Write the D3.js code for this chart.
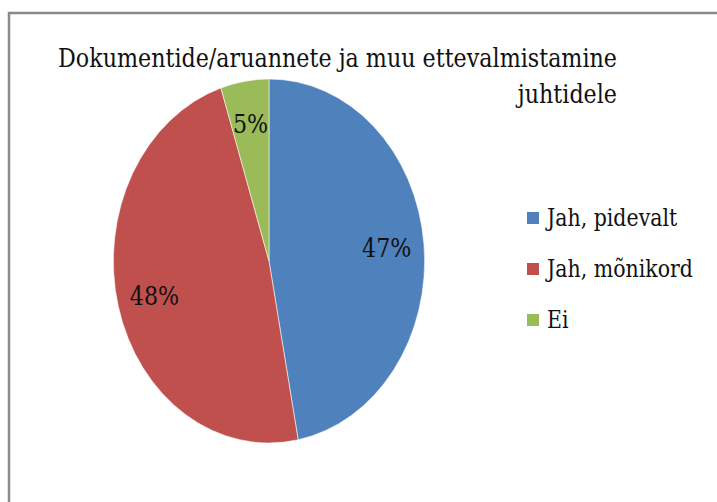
<!DOCTYPE html>
<html>
<head>
<meta charset="utf-8">
<script src="https://cdn.jsdelivr.net/npm/d3@7"></script>
<style>
  body { margin: 0; background: #fff; }
  svg { display: block; }
</style>
</head>
<body>
<div id="container"></div>
<script>
const categories = ["Jah, pidevalt", "Jah, mõnikord", "Ei"];
const values = [47, 48, 5];
const colors = ["#4f81bd", "#c0504d", "#9bbb59"];
const titleLines = ["Dokumentide/aruannete ja muu ettevalmistamine", "juhtidele"];

const width = 717, height = 502;
const squeeze = 0.855; // the whole source picture is narrower than tall
const font = "'DejaVu Serif', serif";

const svg = d3.select("#container")
  .append("svg")
  .attr("width", width)
  .attr("height", height);

// frame, runs off the right and bottom edges
svg.append("rect")
  .attr("x", 9)
  .attr("y", 13)
  .attr("width", 740)
  .attr("height", 520)
  .attr("fill", "#fff")
  .attr("stroke", "#8a8a8a")
  .attr("stroke-width", 2.5);

// title, right aligned second line
const title = svg.append("g")
  .attr("transform", `translate(617,0) scale(${squeeze},1)`);
title.selectAll("text")
  .data(titleLines)
  .join("text")
  .attr("x", 0)
  .attr("y", (d, i) => 67 + i * 36)
  .attr("text-anchor", "end")
  .attr("font-family", font)
  .attr("font-size", 26)
  .attr("fill", "#111")
  .text(d => d);

const radius = 182;
const g = svg.append("g")
  .attr("transform", `translate(269,261) scale(${squeeze},1)`);

const pie = d3.pie().sort(null).value(d => d.value);
const arcs = pie(categories.map((c, i) => ({name: c, value: values[i]})));
const color = d3.scaleOrdinal().domain(categories).range(colors);

const arc = d3.arc().innerRadius(0).outerRadius(radius);
const labelArc = d3.arc().innerRadius(radius * 0.76).outerRadius(radius * 0.76);

g.selectAll("path")
  .data(arcs)
  .join("path")
  .attr("d", arc)
  .attr("fill", d => color(d.data.name))
  .attr("stroke", "#fff")
  .attr("stroke-width", 0.6);

g.selectAll("text.lbl")
  .data(arcs)
  .join("text")
  .attr("class", "lbl")
  .attr("transform", d => `translate(${labelArc.centroid(d)})`)
  .attr("text-anchor", "middle")
  .attr("dy", "0.35em")
  .attr("font-family", font)
  .attr("font-size", 26)
  .attr("fill", "#111")
  .text(d => d.data.value + "%");

// legend
const legend = svg.append("g")
  .attr("transform", "translate(527,218)");

categories.forEach((key, i) => {
  const item = legend.append("g")
    .attr("transform", `translate(0, ${i * 51})`);

  item.append("rect")
    .attr("x", 0)
    .attr("y", -6)
    .attr("width", 12)
    .attr("height", 12)
    .style("fill", color(key));

  item.append("text")
    .attr("transform", `translate(20,0) scale(${squeeze},1)`)
    .attr("y", 8)
    .attr("font-family", font)
    .attr("font-size", 24)
    .attr("fill", "#111")
    .text(key);
});
</script>
</body>
</html>
